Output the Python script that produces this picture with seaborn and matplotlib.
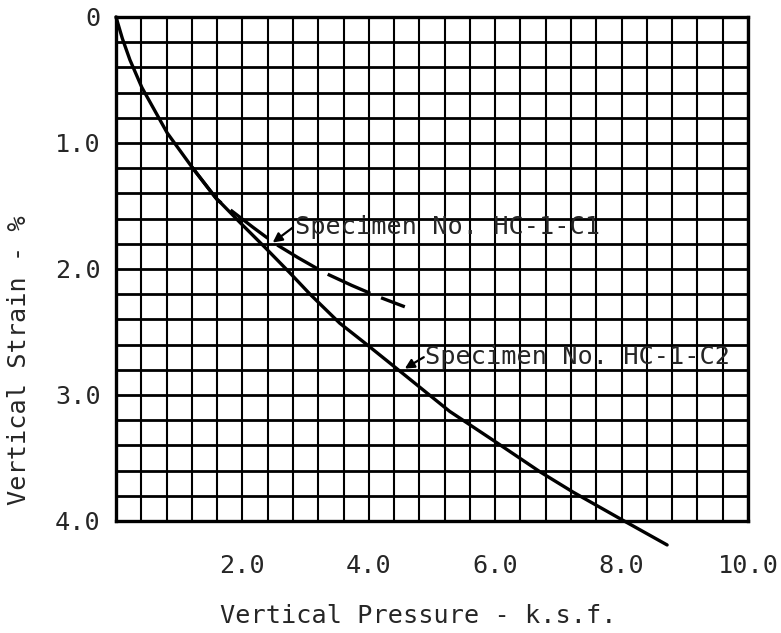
import numpy as np
import pandas as pd
import matplotlib
matplotlib.use("Agg")
import matplotlib.pyplot as plt
from matplotlib.ticker import MultipleLocator
import seaborn as sns

# ---- data ----
c2_pressure = [0, 0.10, 0.22, 0.41, 0.81, 1.20, 1.57, 1.96, 2.36, 2.75, 3.07, 3.54, 3.97, 4.54, 5.28, 6.03, 6.71, 7.23, 7.97, 8.72]
c2_strain   = [0, 0.17, 0.34, 0.56, 0.92, 1.19, 1.43, 1.63, 1.83, 2.03, 2.20, 2.43, 2.60, 2.83, 3.13, 3.38, 3.61, 3.77, 3.98, 4.19]

c1_pressure = [1.20, 1.60, 2.17, 2.52, 2.88, 3.30, 3.73, 4.15, 4.57]
c1_strain   = [1.19, 1.45, 1.67, 1.80, 1.91, 2.03, 2.13, 2.22, 2.30]

x_tick_values = [2.0, 4.0, 6.0, 8.0, 10.0]
x_tick_labels = ["2.0", "4.0", "6.0", "8.0", "10.0"]
y_tick_values = [0, 1.0, 2.0, 3.0, 4.0]
y_tick_labels = ["0", "1.0", "2.0", "3.0", "4.0"]

label_c1 = "Specimen No. HC-1-C1"
label_c2 = "Specimen No. HC-1-C2"
x_title = "Vertical Pressure - k.s.f."
y_title = "Vertical Strain - %"

# ---- figure ----
sns.set_style("white")
plt.rcParams["font.family"] = ["DejaVu Sans Mono", "Liberation Mono"]
FS = 18.2

W, H = 781, 633
fig = plt.figure(figsize=(W / 100, H / 100), dpi=100)
ax = fig.add_axes([116 / W, 1 - 521 / H, 632 / W, 504 / H])

df_c2 = pd.DataFrame({"p": c2_pressure, "s": c2_strain})
df_c1 = pd.DataFrame({"p": c1_pressure, "s": c1_strain})

sns.lineplot(data=df_c2, x="p", y="s", ax=ax, color="black", lw=2.4,
             estimator=None, sort=False)
sns.lineplot(data=df_c1, x="p", y="s", ax=ax, color="black", lw=2.4,
             estimator=None, sort=False)
for ln in ax.lines:
    ln.set_clip_on(False)
ax.lines[-1].set_linestyle((0, (14, 3.5)))

ax.set_xlim(0, 10)
ax.set_ylim(4, 0)

ax.set_xticks(x_tick_values)
ax.set_xticklabels(x_tick_labels, fontsize=FS)
ax.set_yticks(y_tick_values)
ax.set_yticklabels(y_tick_labels, fontsize=FS)
ax.xaxis.set_minor_locator(MultipleLocator(0.4))
ax.yaxis.set_minor_locator(MultipleLocator(0.2))
ax.tick_params(axis="both", which="both", length=0)
ax.tick_params(axis="x", pad=24)
ax.tick_params(axis="y", pad=11)

ax.xaxis.grid(True, which="both", color="black", lw=1.5)
ax.yaxis.grid(True, which="both", color="black", lw=2.0)
ax.set_axisbelow(True)
for sp in ax.spines.values():
    sp.set_visible(True)
    sp.set_color("black")
    sp.set_linewidth(2.4)

ax.set_xlabel("")
ax.set_ylabel("")

arrow = dict(arrowstyle="-|>,head_length=0.55,head_width=0.28", color="black",
             lw=1.6, shrinkA=0, shrinkB=0)
ax.annotate("", xy=(2.48, 1.79), xytext=(2.80, 1.67), arrowprops=arrow)
ax.text(2.83, 1.67, label_c1, fontsize=FS, ha="left", va="center")
ax.annotate("", xy=(4.57, 2.79), xytext=(4.87, 2.70), arrowprops=arrow)
ax.text(4.89, 2.70, label_c2, fontsize=FS, ha="left", va="center")

fig.text(418 / W, 1 - 616 / H, x_title, fontsize=FS, ha="center", va="center")
fig.text(19 / W, 1 - 360 / H, y_title, fontsize=FS, ha="center", va="center",
         rotation=90)

fig.savefig("out.png", dpi=100, facecolor="white")
